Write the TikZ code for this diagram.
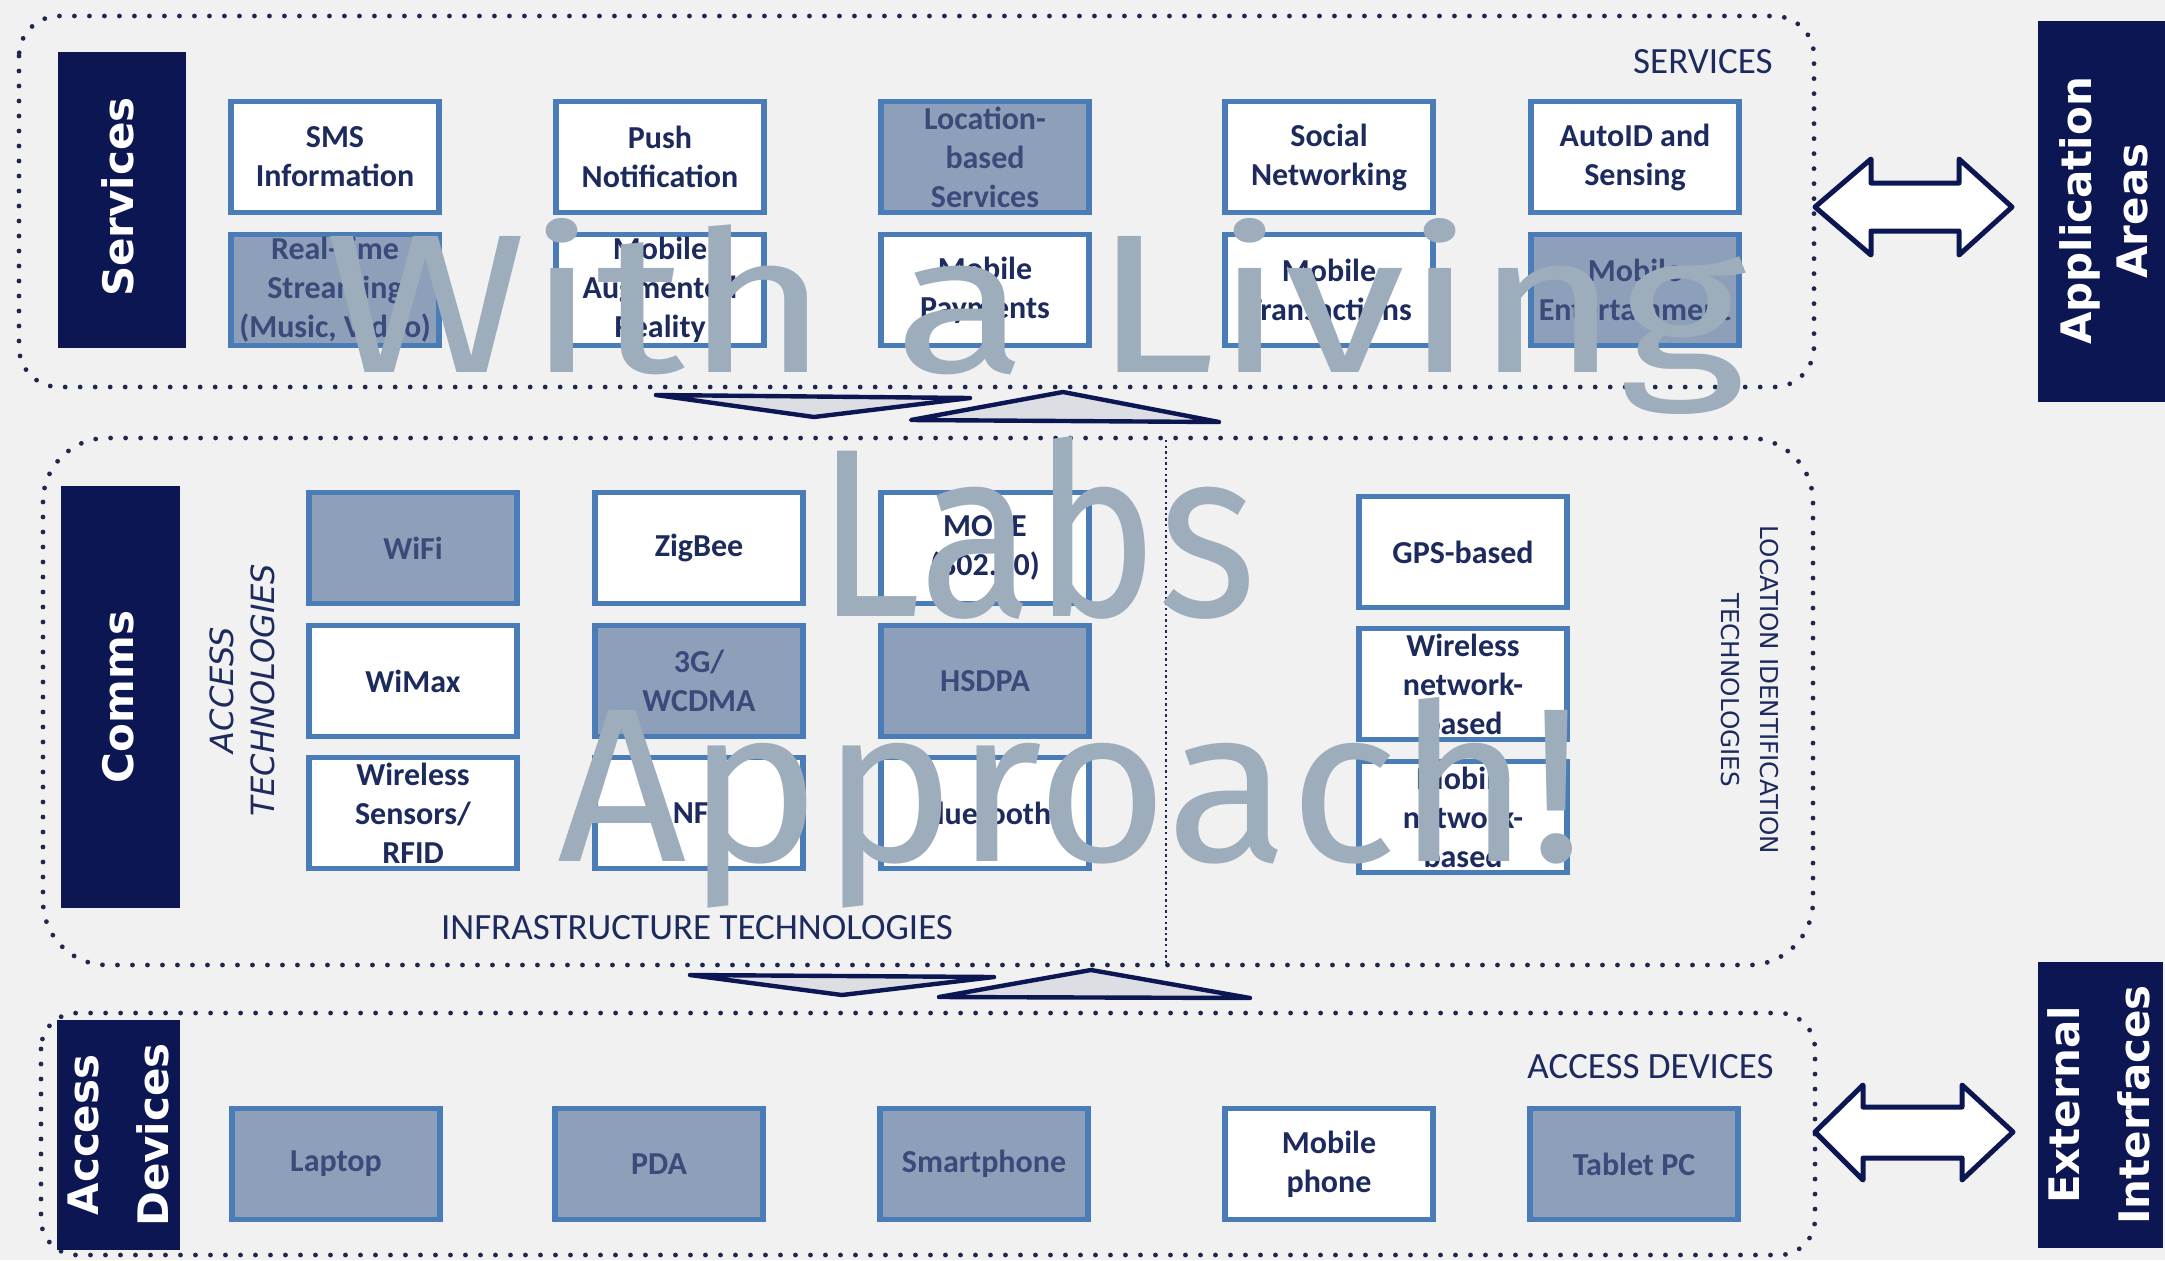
\documentclass[tikz,border=0pt]{standalone}
\usepackage{fontspec}
\setmainfont{Carlito}
\newfontfamily\labfont{DejaVu Sans}
\newfontfamily\wmfont{Fira Sans}
\definecolor{bg}{HTML}{F1F1F1}
\definecolor{navy}{HTML}{0C1652}
\definecolor{dotc}{HTML}{1E2752}
\definecolor{boxblue}{HTML}{4A7DB8}
\definecolor{shade}{HTML}{8E9FB9}
\definecolor{txt}{HTML}{1D2A5E}
\definecolor{txtdim}{HTML}{3A4A7A}
\definecolor{wm}{HTML}{9DADBC}
\definecolor{arrfill}{HTML}{DCDEE4}
\tikzset{
  dotline/.style={draw=dotc, line width=2.4pt, line cap=round, dash pattern=on 0pt off 7.5pt},
  divline/.style={draw=dotc, line width=1.1pt, dash pattern=on 1.2pt off 1.6pt},
  lightbox/.style={draw=boxblue, line width=2.6pt, fill=white, minimum width=104pt, minimum height=55.5pt, inner sep=0pt, text=txt, align=center, font=\bfseries\fontsize{16}{19.5}\selectfont},
  shadebox/.style={lightbox, fill=shade, text=txtdim},
  darkfill/.style={fill=navy},
  darktext/.style={text=white, align=center, inner sep=0pt, font=\labfont\bfseries\fontsize{21}{35}\selectfont},
  seclabel/.style={text=txt, inner sep=0pt, font=\fontsize{18.5}{22}\selectfont},
  dblarrow/.style={fill=white, draw=navy, line width=2.5pt, line join=round},
  flatarrow/.style={fill=arrfill, draw=navy, line width=2.2pt, line join=round},
  wmtext/.style={text=wm, inner sep=0pt, font=\wmfont}
}
\begin{document}
\begin{tikzpicture}[x=0.5pt, y=-0.5pt]
\fill[bg] (0,0) rectangle (2165,1260);
\useasboundingbox (0,0) rectangle (2165,1260);

% ---------- Services layer ----------
\draw[dotline, rounded corners=20pt] (19,16) rectangle (1814,387);
\fill[darkfill] (58,52) rectangle (186,348);
\node[darktext, rotate=90] (svclab) at (118,197) {Services};
\node[seclabel, anchor=east] (svcsec) at (1773,62) {SERVICES};

\node[lightbox] (sms) at (335,157) {SMS\\Information};
\node[lightbox] (push) at (660,157) {Push\\Notification};
\node[shadebox] (lbs) at (985,157) {Location-\\based\\Services};
\node[lightbox] (soc) at (1329,157) {Social\\Networking};
\node[lightbox] (auto) at (1635,157) {AutoID and\\Sensing};
\node[shadebox] (rts) at (335,290) {Real-time\\Streaming\\(Music, Video)};
\node[lightbox] (mar) at (660,290) {Mobile\\Augmented\\Reality};
\node[lightbox] (mpay) at (985,290) {Mobile\\Payments};
\node[lightbox] (mtr) at (1329,290) {Mobile\\Transactions};
\node[shadebox] (ment) at (1635,290) {Mobile\\Entertainment};

\fill[darkfill] (2038,21) rectangle (2165,402);
\node[darktext, rotate=90, font=\labfont\bfseries\fontsize{21}{28}\selectfont] (applab) at (2104,211) {Application\\Areas};
\coordinate (ua) at (1815,207);
\draw[dblarrow] (ua) -- (1871,159) -- (1871,183) -- (1959,183) -- (1959,159) -- (2012,207) -- (1959,255) -- (1959,231) -- (1871,231) -- (1871,255) -- cycle;

% ---------- arrows Services / Comms ----------
\draw[flatarrow] (656,395) -- (970,398) -- (814,417) -- cycle;
\draw[flatarrow] (911,420) -- (1063,392) -- (1219,422) -- cycle;

% ---------- Comms layer ----------
\draw[dotline, rounded corners=32pt] (43,438) rectangle (1813,965);
\draw[divline] (1166,440) -- (1166,964);
\fill[darkfill] (61,486) rectangle (180,908);
\node[darktext, rotate=90] (comlab) at (118,697) {Comms};
\node[text=txt, rotate=90, align=center, inner sep=0pt, font=\labfont\itshape\fontsize{16}{20.5}\selectfont] (acctech) at (242,690) {ACCESS\\TECHNOLOGIES};
\node[seclabel] (infra) at (697,928) {INFRASTRUCTURE TECHNOLOGIES};
\node[text=txt, rotate=-90, align=center, inner sep=0pt, font=\labfont\fontsize{12.3}{19.5}\selectfont] (loctech) at (1750,690) {LOCATION IDENTIFICATION\\TECHNOLOGIES};

\node[shadebox] (wifi) at (413,548) {WiFi};
\node[lightbox] (zig) at (699,548) {ZigBee};
\node[lightbox] (move) at (985,548) {MOVE\\(802.20)};
\node[lightbox] (wimax) at (413,681) {WiMax};
\node[shadebox] (wcdma) at (699,681) {3G/\\WCDMA};
\node[shadebox] (hsdpa) at (985,681) {HSDPA};
\node[lightbox] (wsr) at (413,813) {Wireless\\Sensors/\\RFID};
\node[lightbox] (nfc) at (699,813) {NFC};
\node[lightbox] (bt) at (985,813) {Bluetooth};

\node[lightbox] (gps) at (1463,552) {GPS-based};
\node[lightbox] (wnb) at (1463,684) {Wireless\\network-\\based};
\node[lightbox] (mnb) at (1463,817) {Mobile\\network-\\based};

% ---------- arrows Comms / Access ----------
\draw[flatarrow] (690,975) -- (994,977) -- (842,995) -- cycle;
\draw[flatarrow] (939,997) -- (1091,970) -- (1250,998) -- cycle;

% ---------- Access devices layer ----------
\draw[dotline, rounded corners=18pt] (41,1013) rectangle (1815,1255);
\fill[darkfill] (57,1020) rectangle (180,1250);
\node[darktext, rotate=90] (acclab) at (118,1135) {Access\\Devices};
\node[seclabel, anchor=east] (accsec) at (1774,1067) {ACCESS DEVICES};

\node[shadebox] (lap) at (336,1164) {Laptop};
\node[shadebox] (pda) at (659,1164) {PDA};
\node[shadebox] (smart) at (984,1164) {Smartphone};
\node[lightbox] (mphone) at (1329,1164) {Mobile\\phone};
\node[shadebox] (tab) at (1634,1164) {Tablet PC};

\fill[darkfill] (2038,962) rectangle (2163,1248);
\node[darktext, rotate=90] (extlab) at (2099,1105) {External\\Interfaces};
\coordinate (la) at (1815,1132);
\draw[dblarrow] (la) -- (1863,1085) -- (1863,1107) -- (1962,1107) -- (1962,1085) -- (2013,1132) -- (1962,1180) -- (1962,1158) -- (1863,1158) -- (1863,1180) -- cycle;

% ---------- watermark ----------
\node[wmtext, anchor=base west] (wm1) at (324,372) {\resizebox{711pt}{77pt}{With a Living}};
\node[wmtext, anchor=base west] (wm2) at (816,616) {\resizebox{220pt}{90pt}{Labs}};
\node[wmtext, anchor=base west] (wm3) at (557,861) {\resizebox{513pt}{82pt}{Approach!}};
\end{tikzpicture}
\end{document}
